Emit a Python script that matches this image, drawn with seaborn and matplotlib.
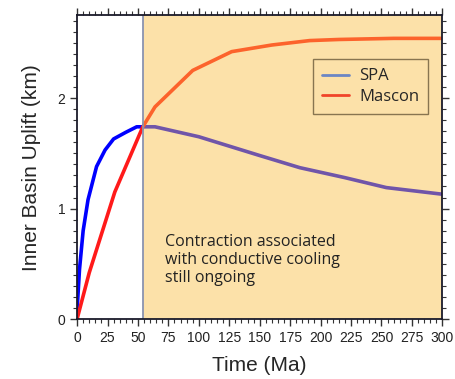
import matplotlib
matplotlib.use("Agg")
import matplotlib.pyplot as plt
import seaborn as sns
import pandas as pd
from matplotlib.ticker import MultipleLocator

# data
spa_t = [0, 2, 5, 9, 16, 23, 30, 40, 49, 64, 100, 150, 183, 220, 254, 300]
spa_u = [0.08, 0.45, 0.8, 1.08, 1.38, 1.53, 1.63, 1.69, 1.74, 1.74, 1.65, 1.48, 1.37, 1.28, 1.19, 1.13]
mas_t = [0, 10, 31, 54, 64, 95, 127, 160, 191, 215, 260, 300]
mas_u = [0.0, 0.42, 1.15, 1.74, 1.92, 2.25, 2.42, 2.48, 2.52, 2.53, 2.54, 2.54]
span_start = 54

df = pd.concat([
    pd.DataFrame({"t": spa_t, "u": spa_u, "series": "SPA"}),
    pd.DataFrame({"t": mas_t, "u": mas_u, "series": "Mascon"}),
])

sns.set_style("ticks")
plt.rcParams["font.family"] = ["Liberation Sans", "DejaVu Sans"]

fig, ax = plt.subplots(figsize=(4.56, 3.79), dpi=100)
fig.subplots_adjust(left=0.169, right=0.970, top=0.960, bottom=0.158)

sns.lineplot(data=df, x="t", y="u", hue="series", sort=False,
             palette={"SPA": "#0000ff", "Mascon": "#ff1a1a"},
             linewidth=2.6, ax=ax, legend=False, zorder=3)

# shading on top of the lines, semi-transparent
ax.axvspan(span_start, 300, color="#fabd42", alpha=0.45, lw=0, zorder=6)
ax.axvline(span_start, color="#8a93b0", lw=1.3, zorder=7)

ax.plot([], [], color="#6b86c4", lw=2, label="SPA")
ax.plot([], [], color="#f0442a", lw=2, label="Mascon")
leg = ax.legend(loc="upper right", bbox_to_anchor=(0.962, 0.855),
                borderaxespad=0, fancybox=False, facecolor="none",
                edgecolor="#6b5a3a", prop={"family": "Open Sans", "size": 12},
                handlelength=1.6, borderpad=0.55, labelspacing=0.25,
                handletextpad=0.6)
leg.get_frame().set_linewidth(1.0)
leg.set_zorder(8)

ax.text(0.24, 0.28, "Contraction associated\nwith conductive cooling\nstill ongoing",
        transform=ax.transAxes, fontsize=11.5, family="Open Sans",
        color="#222222", va="top", ha="left", linespacing=1.15, zorder=8)

ax.set_xlim(0, 300)
ax.set_ylim(0, 2.75)
ax.xaxis.set_major_locator(MultipleLocator(25))
ax.xaxis.set_minor_locator(MultipleLocator(5))
ax.yaxis.set_major_locator(MultipleLocator(1))
ax.yaxis.set_minor_locator(MultipleLocator(0.1))
ax.tick_params(which="both", direction="out", top=True, right=True,
               labeltop=False, labelright=False, color="#333333")
ax.tick_params(which="major", length=5, width=1, labelsize=10, labelcolor="#222222")
ax.tick_params(which="minor", length=3, width=0.8)
for s in ax.spines.values():
    s.set_color("#1a1a2a")
    s.set_linewidth(1.3)
    s.set_zorder(9)

ax.set_xlabel("Time (Ma)", fontsize=15, labelpad=8)
ax.set_ylabel("Inner Basin Uplift (km)", fontsize=15, labelpad=12)

fig.savefig("out.png", dpi=100)
